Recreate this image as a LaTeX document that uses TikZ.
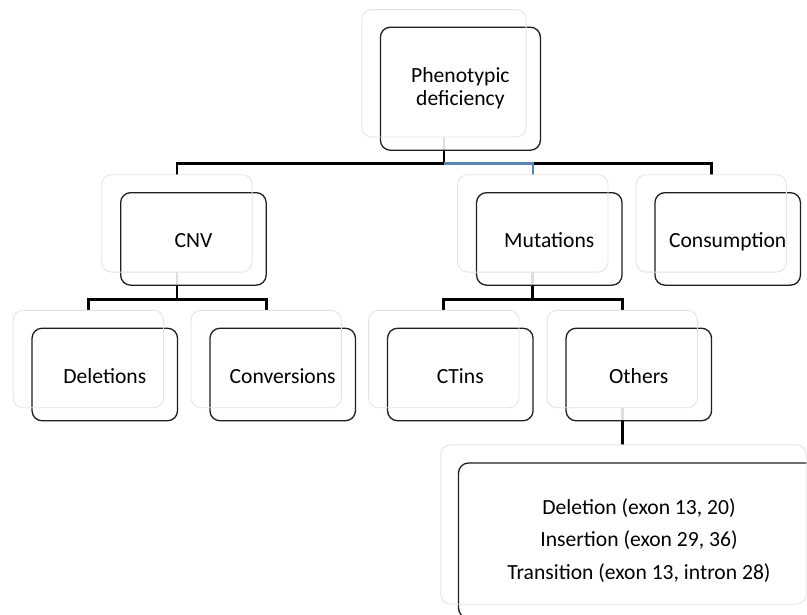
\documentclass[tikz,border=0pt]{standalone}
\usepackage{fontspec}
\setmainfont{Carlito}
\usetikzlibrary{calc}
\definecolor{selblue}{HTML}{5A83B6}
\definecolor{shadline}{HTML}{E4E4E4}
\tikzset{
  shad/.style={draw=shadline, line width=0.9pt, rounded corners=10pt, inner sep=0pt},
  lvlA/.style={minimum width=164pt, minimum height=127pt},
  lvlB/.style={minimum width=150pt, minimum height=97pt},
  lvlC/.style={minimum width=365pt, minimum height=159pt},
  mainbox/.style={draw=black!88, line width=1.3pt, rounded corners=10pt, fill=white, fill opacity=0.87, text opacity=1, align=center, inner sep=0pt, font=\fontsize{21.6}{23}\selectfont},
  oneline/.style={text height=17pt, text depth=0pt},
  mA/.style={minimum width=160pt, minimum height=123pt},
  mB/.style={minimum width=145.5pt, minimum height=92.5pt},
  mC/.style={minimum width=361pt, minimum height=155pt},
  conn/.style={draw=black, line width=2.8pt},
  selconn/.style={draw=selblue, line width=2.3pt}
}
\begin{document}
\begin{tikzpicture}[x=1pt, y=-1pt]
\useasboundingbox (0,0) rectangle (807,614);
\clip (0,0) rectangle (807,614);
\fill[white] (0,0) rectangle (807,614);
% anchor (shadow) nodes, outlines drawn later on top
\path
  (443.9,73.3) node[lvlA, inner sep=0pt] (topS) {}
  (176.9,223.4) node[lvlB, inner sep=0pt] (cnvS) {}
  (532.8,223.4) node[lvlB, inner sep=0pt] (mutS) {}
  (711.2,223.4) node[lvlB, inner sep=0pt] (conS) {}
  (88.3,359.0) node[lvlB, inner sep=0pt] (delS) {}
  (266.2,359.0) node[lvlB, inner sep=0pt] (cvsS) {}
  (443.8,359.0) node[lvlB, inner sep=0pt] (ctiS) {}
  (622.3,359.0) node[lvlB, inner sep=0pt] (othS) {}
  (623.5,524.5) node[lvlC, inner sep=0pt] (detS) {};
\coordinate (barA) at (0,163.5);
\coordinate (barB) at (0,299.5);
% connectors
\draw[conn] (topS.south) -- (topS.south |- barA);
\draw[conn] (cnvS.north) -- (cnvS.north |- barA) -- (conS.north |- barA) -- (conS.north);
\draw[selconn] (topS.south |- barA) -| (mutS.north);
\draw[conn] (cnvS.south) -- (cnvS.south |- barB);
\draw[conn] (delS.north) -- (delS.north |- barB) -- (cvsS.north |- barB) -- (cvsS.north);
\draw[conn] (mutS.south) -- (mutS.south |- barB);
\draw[conn] (ctiS.north) -- (ctiS.north |- barB) -- (othS.north |- barB) -- (othS.north);
\draw[conn] (othS.south) -- (othS.south |- detS.north);
% main boxes
\node[mainbox, mA] (top) at ($(topS.center)+(16.5,15.4)$) {Phenotypic\\deficiency};
\node[mainbox, mB, oneline] (cnv) at ($(cnvS.center)+(16.5,15.5)$) {CNV};
\node[mainbox, mB, oneline] (mut) at ($(mutS.center)+(16.5,15.5)$) {Mutations};
\node[mainbox, mB, oneline] (con) at ($(conS.center)+(16.5,15.5)$) {Consumption};
\node[mainbox, mB, oneline] (del) at ($(delS.center)+(16.5,15.5)$) {Deletions};
\node[mainbox, mB, oneline] (cvs) at ($(cvsS.center)+(16.5,15.5)$) {Conversions};
\node[mainbox, mB, oneline] (cti) at ($(ctiS.center)+(16.5,15.5)$) {CTins};
\node[mainbox, mB, oneline] (oth) at ($(othS.center)+(16.5,15.5)$) {Others};
\node[mainbox, mC, font=\fontsize{21.6}{32.6}\selectfont] (det) at ($(detS.center)+(15.5,16)$) {Deletion (exon 13, 20)\\Insertion (exon 29, 36)\\Transition (exon 13, intron 28)};
% faint offset outlines on top
\foreach \n in {topS,cnvS,mutS,conS,delS,cvsS,ctiS,othS,detS}{
  \draw[shad] (\n.south west) rectangle (\n.north east);
}
\end{tikzpicture}
\end{document}
